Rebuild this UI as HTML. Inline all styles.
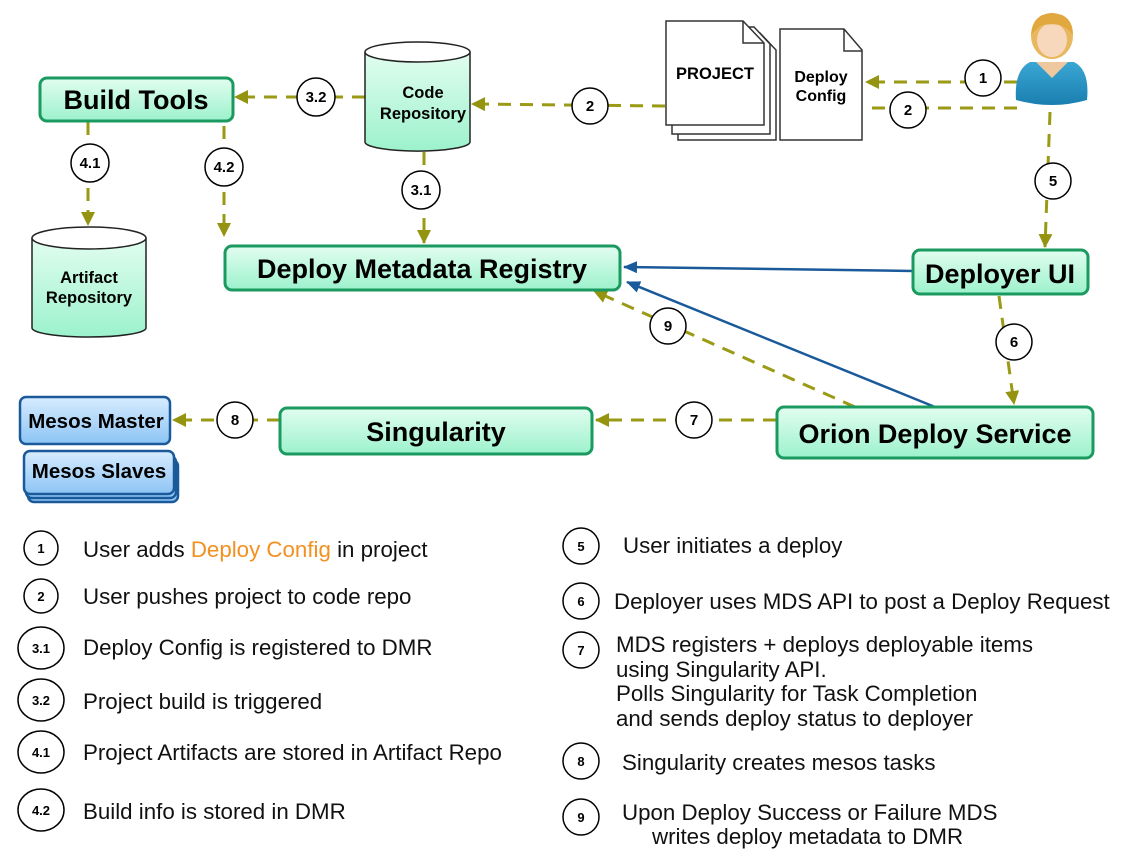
<!DOCTYPE html>
<html><head><meta charset="utf-8"><style>
html,body{margin:0;padding:0;background:#fff;}
svg{display:block;}
text{font-family:"Liberation Sans",sans-serif;}
</style></head><body>
<svg width="1131" height="868" viewBox="0 0 1131 868" xmlns="http://www.w3.org/2000/svg">
<defs>
<linearGradient id="g" x1="0" y1="0" x2="0" y2="1"><stop offset="0" stop-color="#e2fdf0"/><stop offset="1" stop-color="#9cf2cc"/></linearGradient>
<linearGradient id="b" x1="0" y1="0" x2="0" y2="1"><stop offset="0" stop-color="#d8ecff"/><stop offset="1" stop-color="#8cc4f4"/></linearGradient>
<linearGradient id="shirt" x1="0" y1="0" x2="0" y2="1"><stop offset="0" stop-color="#3aa6d4"/><stop offset="1" stop-color="#1a7fb0"/></linearGradient>
<marker id="ao" markerWidth="14" markerHeight="14" refX="13" refY="7" orient="auto" markerUnits="userSpaceOnUse" viewBox="0 0 14 14"><path d="M0,0 L14,7 L0,14 z" fill="#949410"/></marker>
<marker id="ab" markerWidth="14" markerHeight="12" refX="13" refY="6" orient="auto" markerUnits="userSpaceOnUse"><path d="M0,0 L14,6 L0,12 z" fill="#1a5a9a"/></marker>
</defs>
<g stroke="#9a9a14" stroke-width="3" stroke-dasharray="13,9" fill="none">
<line x1="1017" y1="82" x2="866" y2="82" marker-end="url(#ao)"/>
<line x1="1017" y1="108" x2="868" y2="108"/>
<line x1="665" y1="106" x2="472" y2="104" marker-end="url(#ao)"/>
<line x1="365" y1="97" x2="235" y2="97" marker-end="url(#ao)"/>
<line x1="88" y1="122" x2="88" y2="225" marker-end="url(#ao)"/>
<line x1="224" y1="126" x2="224" y2="236" marker-end="url(#ao)"/>
<line x1="424" y1="152" x2="424" y2="243" marker-end="url(#ao)"/>
<line x1="1050" y1="112" x2="1045" y2="247" marker-end="url(#ao)"/>
<line x1="999" y1="296" x2="1014" y2="404" marker-end="url(#ao)"/>
<line x1="776" y1="420" x2="596" y2="420" marker-end="url(#ao)"/>
<line x1="280" y1="420" x2="173" y2="420" marker-end="url(#ao)"/>
<line x1="855" y1="407" x2="594" y2="291" marker-end="url(#ao)"/>
</g>
<g stroke="#1a5a9a" stroke-width="2.5" fill="none">
<line x1="913" y1="271" x2="624" y2="267" marker-end="url(#ab)"/>
<line x1="935" y1="407" x2="627" y2="282" marker-end="url(#ab)"/>
</g>

<g stroke="#1b9a60" stroke-width="3" fill="url(#g)">
<rect x="40" y="78" width="193" height="43" rx="7"/>
<rect x="225" y="246" width="395" height="44" rx="7"/>
<rect x="913" y="250" width="175" height="44" rx="7"/>
<rect x="777" y="407" width="316" height="51" rx="7"/>
<rect x="280" y="408" width="312" height="46" rx="7"/>
</g>
<g font-weight="bold" fill="#000" text-anchor="middle">
<text x="136" y="109" font-size="27">Build Tools</text>
<text x="422" y="278" font-size="27">Deploy Metadata Registry</text>
<text x="1000" y="283" font-size="27">Deployer UI</text>
<text x="935" y="443" font-size="27">Orion Deploy Service</text>
<text x="436" y="441" font-size="27">Singularity</text>
</g>

<g stroke="#222" stroke-width="1.5" fill="url(#g)">
<path d="M365,52 L365,142 A52,9 0 0 0 470,142 L470,52"/>
<ellipse cx="417.5" cy="52" rx="52.5" ry="10" fill="#fff"/>
<path d="M32,238 L32,328 A57,9 0 0 0 146,328 L146,238"/>
<ellipse cx="89" cy="238" rx="57" ry="11" fill="#fff"/>
</g>
<g font-weight="bold" font-size="16.5" text-anchor="middle" fill="#000">
<text x="423" y="98">Code</text><text x="423" y="119">Repository</text>
<text x="89" y="283">Artifact</text><text x="89" y="303">Repository</text>
</g>

<g stroke="#1a5a9a" stroke-width="2.5" fill="url(#b)">
<rect x="28" y="460" width="150" height="42" rx="6"/>
<rect x="26" y="456" width="150" height="42" rx="6"/>
<rect x="24" y="451" width="150" height="43" rx="6"/>
<rect x="20" y="397" width="150" height="47" rx="6"/>
</g>
<g font-weight="bold" font-size="20.5" text-anchor="middle" fill="#000">
<text x="96" y="428">Mesos Master</text>
<text x="99" y="478">Mesos Slaves</text>
</g>

<g stroke="#333" stroke-width="1.5" fill="#fff">
<path d="M678,33 L760,33 L776,50 L776,140 L678,140 z"/>
<path d="M672,27 L754,27 L770,44 L770,134 L672,134 z"/>
<path d="M666,21 L743,21 L764,43 L764,125 L666,125 z"/>
<path d="M743,21 L743,43 L764,43" fill="none"/>
<path d="M780,29 L844,29 L862,50 L862,140 L780,140 z"/>
<path d="M844,29 L844,51 L862,51" fill="none"/>
</g>
<g font-weight="bold" fill="#000" text-anchor="middle">
<text x="715" y="79" font-size="16.5">PROJECT</text>
<text x="821" y="82" font-size="16">Deploy</text>
<text x="821" y="101" font-size="16">Config</text>
</g>

<g>
<path d="M1016,100 Q1014,70 1030,62 L1074,62 Q1090,70 1087,100 Q1052,110 1016,100 z" fill="url(#shirt)"/>
<path d="M1036,62 L1052,78 L1068,62 z" fill="#f0c8a0"/>
<ellipse cx="1052" cy="36" rx="21" ry="23" fill="#e7b860"/>
<ellipse cx="1052" cy="40" rx="15" ry="17" fill="#f8d8bc"/>
<path d="M1031,35 Q1032,14 1052,13 Q1073,14 1073,35 Q1062,20 1040,26 z" fill="#e0a83e"/>
</g>

<g stroke="#000" stroke-width="1.5" fill="#fff">
<circle cx="983" cy="78" r="18"/>
<circle cx="908" cy="110" r="18"/>
<circle cx="590" cy="106" r="18"/>
<circle cx="316" cy="97" r="19"/>
<circle cx="90" cy="163" r="19"/>
<circle cx="224" cy="167" r="19"/>
<circle cx="421" cy="190" r="19"/>
<circle cx="1053" cy="181" r="18"/>
<circle cx="1014" cy="342" r="18"/>
<circle cx="668" cy="326" r="18"/>
<circle cx="694" cy="420" r="18"/>
<circle cx="235" cy="420" r="18"/>
</g>
<g font-weight="bold" font-size="15" text-anchor="middle" fill="#000">
<text x="983" y="83">1</text>
<text x="908" y="115">2</text>
<text x="590" y="111">2</text>
<text x="316" y="102">3.2</text>
<text x="90" y="168">4.1</text>
<text x="224" y="172">4.2</text>
<text x="421" y="195">3.1</text>
<text x="1053" y="186">5</text>
<text x="1014" y="347">6</text>
<text x="668" y="331">9</text>
<text x="694" y="425">7</text>
<text x="235" y="425">8</text>
</g>

<g stroke="#000" stroke-width="1.5" fill="#fff">
<circle cx="41" cy="548" r="17"/>
<circle cx="41" cy="596" r="17"/>
<ellipse cx="41" cy="648" rx="23" ry="21"/>
<ellipse cx="41" cy="700" rx="23" ry="21"/>
<ellipse cx="41" cy="752" rx="23" ry="21"/>
<ellipse cx="41" cy="810" rx="23" ry="21"/>
<circle cx="581" cy="546" r="18"/>
<circle cx="581" cy="601" r="18"/>
<circle cx="581" cy="650" r="18"/>
<circle cx="581" cy="761" r="18"/>
<circle cx="581" cy="817" r="18"/>
</g>
<g font-weight="bold" font-size="13" text-anchor="middle" fill="#000">
<text x="41" y="553">1</text>
<text x="41" y="601">2</text>
<text x="41" y="653">3.1</text>
<text x="41" y="705">3.2</text>
<text x="41" y="757">4.1</text>
<text x="41" y="815">4.2</text>
<text x="581" y="551">5</text>
<text x="581" y="606">6</text>
<text x="581" y="655">7</text>
<text x="581" y="766">8</text>
<text x="581" y="822">9</text>
</g>
<g font-size="22.3" fill="#111">
<text x="83" y="557">User adds <tspan fill="#f39020">Deploy Config</tspan> in project</text>
<text x="83" y="604">User pushes project to code repo</text>
<text x="83" y="655">Deploy Config is registered to DMR</text>
<text x="83" y="709">Project build is triggered</text>
<text x="83" y="760">Project Artifacts are stored in Artifact Repo</text>
<text x="83" y="819">Build info is stored in DMR</text>
<text x="623" y="553">User initiates a deploy</text>
<text x="614" y="609">Deployer uses MDS API to post a Deploy Request</text>
<text x="616" y="652">MDS registers + deploys deployable items</text>
<text x="616" y="677">using Singularity API.</text>
<text x="616" y="701">Polls Singularity for Task Completion</text>
<text x="616" y="726">and sends deploy status to deployer</text>
<text x="622" y="770">Singularity creates mesos tasks</text>
<text x="622" y="820">Upon Deploy Success or Failure MDS</text>
<text x="652" y="844">writes deploy metadata to DMR</text>
</g>
</svg>
</body></html>
